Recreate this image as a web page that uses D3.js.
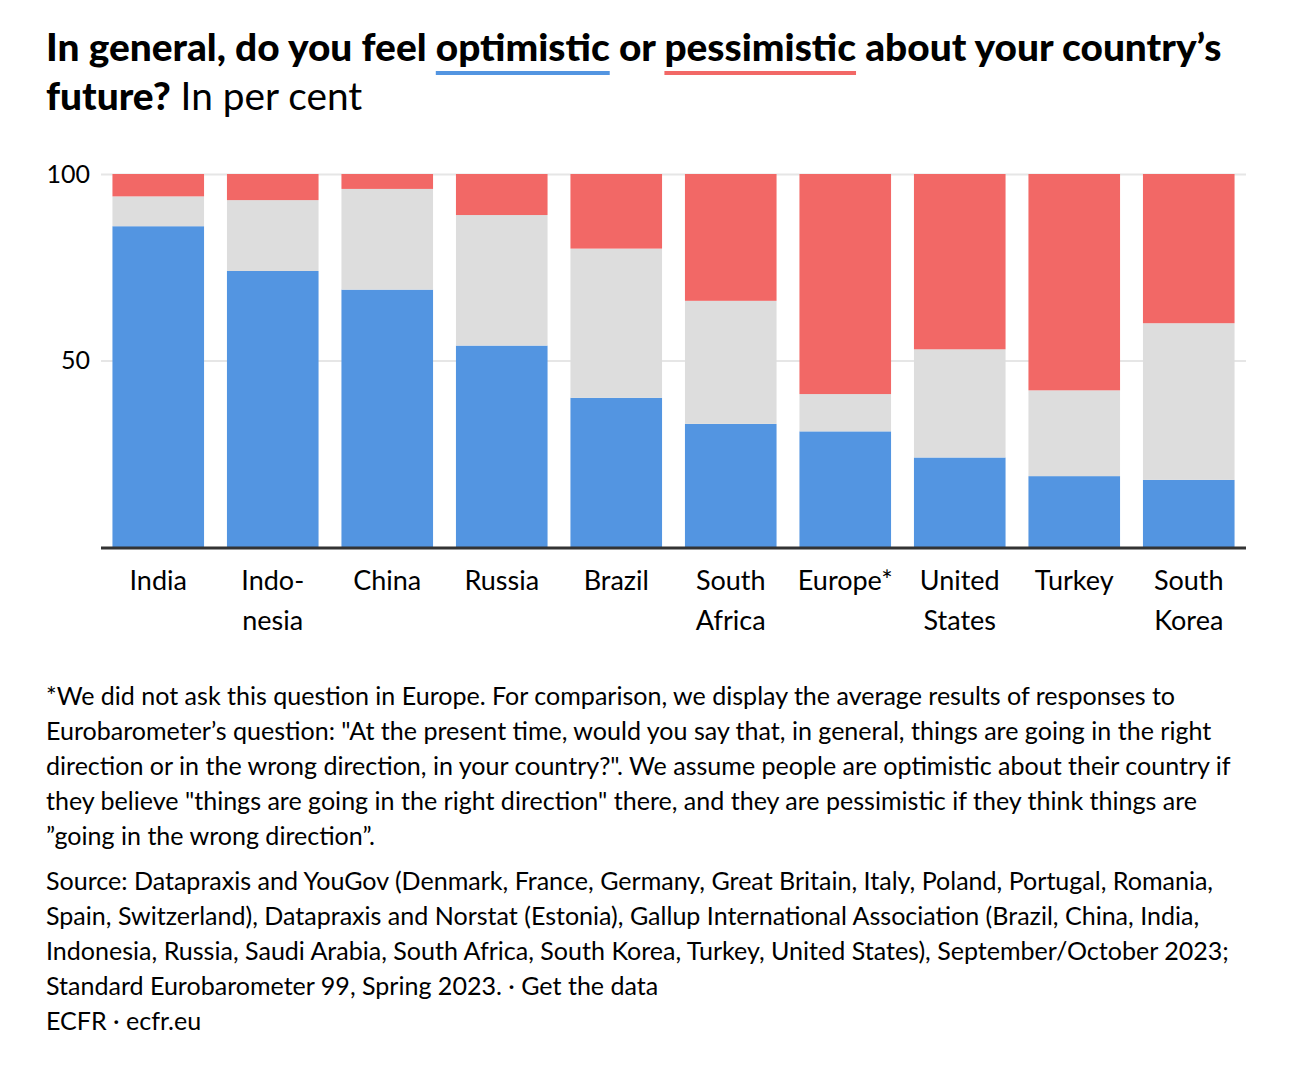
<!DOCTYPE html>
<html>
<head>
<meta charset="utf-8">
<script src="https://cdn.jsdelivr.net/npm/d3@7"></script>
<style>
  html, body { margin: 0; padding: 0; background: #fff; }
  svg { display: block; }
  text { font-family: Lato, "Noto Sans", sans-serif; fill: #000; }
</style>
</head>
<body>
<svg id="chart" width="1316" height="1090"></svg>
<script>
const categories = ["India", "Indonesia", "China", "Russia", "Brazil", "South Africa", "Europe*", "United States", "Turkey", "South Korea"];
const categoryLabels = [["India"], ["Indo-", "nesia"], ["China"], ["Russia"], ["Brazil"], ["South", "Africa"], ["Europe*"], ["United", "States"], ["Turkey"], ["South", "Korea"]];
const optimistic  = [86, 74, 69, 54, 40, 33, 31, 24, 19, 18];
const neutral     = [ 8, 19, 27, 35, 40, 33, 10, 29, 23, 42];
const pessimistic = [ 6,  7,  4, 11, 20, 34, 59, 47, 58, 40];
const seriesKeys = ["optimistic", "neutral", "pessimistic"];
const seriesColors = ["#5395e1", "#dddddd", "#f26866"];
const yTicks = [50, 100];

const footnoteLines = [
  "*We did not ask this question in Europe. For comparison, we display the average results of responses to",
  "Eurobarometer\u2019s question: \"At the present time, would you say that, in general, things are going in the right",
  "direction or in the wrong direction, in your country?\". We assume people are optimistic about their country if",
  "they believe \"things are going in the right direction\" there, and they are pessimistic if they think things are",
  "\u201dgoing in the wrong direction\u201d."
];
const sourceLines = [
  "Source: Datapraxis and YouGov (Denmark, France, Germany, Great Britain, Italy, Poland, Portugal, Romania,",
  "Spain, Switzerland), Datapraxis and Norstat (Estonia), Gallup International Association (Brazil, China, India,",
  "Indonesia, Russia, Saudi Arabia, South Africa, South Korea, Turkey, United States), September/October 2023;",
  "Standard Eurobarometer 99, Spring 2023. \u00b7 Get the data",
  "ECFR \u00b7 ecfr.eu"
];

const svg = d3.select("#chart");

// ---------- Title ----------
const title = svg.append("text").attr("x", 46).attr("y", 61).attr("font-size", 31).attr("font-weight", 900);
title.append("tspan").text("In general, do you feel ");
const tOpt = title.append("tspan").text("optimistic");
title.append("tspan").text(" or ");
const tPes = title.append("tspan").text("pessimistic");
title.append("tspan").text(" about your country\u2019s");

function fitWidth(sel, target) {
  const w = sel.node().getComputedTextLength();
  const fs = +sel.attr("font-size");
  const nfs = fs * target / w;
  sel.attr("font-size", nfs);
  return nfs;
}
const titleFs = fitWidth(title, 1176);

const title2 = svg.append("text").attr("x", 46).attr("y", 110).attr("font-size", titleFs);
title2.append("tspan").attr("font-weight", 900).text("future?");
title2.append("tspan").attr("font-weight", 400).text(" In per cent");

function underline(tspan, color) {
  const n = tspan.node();
  const start = n.getStartPositionOfChar(0);
  const end = n.getEndPositionOfChar(n.getNumberOfChars() - 1);
  svg.append("rect")
    .attr("x", start.x).attr("y", 71)
    .attr("width", end.x - start.x).attr("height", 4)
    .attr("fill", color);
}
underline(tOpt, seriesColors[0]);
underline(tPes, seriesColors[2]);

// ---------- Chart ----------
const x = d3.scaleBand().domain(categories).range([101, 1246]).paddingInner(0.2).paddingOuter(0.1);
const y = d3.scaleLinear().domain([0, 100]).range([547, 174]);

const rows = categories.map((c, i) => ({
  category: c, optimistic: optimistic[i], neutral: neutral[i], pessimistic: pessimistic[i]
}));
const stacked = d3.stack().keys(seriesKeys)(rows);

const grid = svg.append("g").attr("transform", "translate(101,0)")
  .call(d3.axisLeft(y).tickValues(yTicks).tickSize(-1145).tickFormat(""));
grid.select(".domain").remove();
grid.selectAll(".tick line").attr("stroke", "#e6e6e6").attr("stroke-width", 2);

const yAxis = svg.append("g").attr("transform", "translate(90,0)")
  .call(d3.axisLeft(y).tickValues(yTicks).tickSize(0).tickPadding(0));
yAxis.select(".domain").remove();
yAxis.selectAll(".tick text")
  .attr("font-family", "Lato, 'Noto Sans', sans-serif")
  .attr("font-size", 25).attr("fill", "#000");

svg.append("g").selectAll("g").data(stacked).join("g")
  .attr("fill", (d, i) => seriesColors[i])
  .selectAll("rect").data(d => d).join("rect")
  .attr("x", d => x(d.data.category))
  .attr("width", x.bandwidth())
  .attr("y", d => y(d[1]))
  .attr("height", d => y(d[0]) - y(d[1]));

svg.append("line")
  .attr("x1", 101).attr("x2", 1246)
  .attr("y1", y(0) + 1).attr("y2", y(0) + 1)
  .attr("stroke", "#333").attr("stroke-width", 3);

const xLab = svg.append("g");
categories.forEach((c, i) => {
  const t = xLab.append("text")
    .attr("x", x(c) + x.bandwidth() / 2)
    .attr("y", 590)
    .attr("text-anchor", "middle")
    .attr("font-size", 27);
  categoryLabels[i].forEach((line, j) => {
    t.append("tspan").attr("x", x(c) + x.bandwidth() / 2).attr("dy", j === 0 ? 0 : 40).text(line);
  });
});

// ---------- Footnotes ----------
const fn = svg.append("g");
let fnFs = 22;
footnoteLines.forEach((l, i) => {
  fn.append("text").attr("x", 46).attr("y", 705 + i * 35).attr("font-size", fnFs).text(l);
});
const first = fn.select("text");
fnFs = fitWidth(first, 1130);
fn.selectAll("text").attr("font-size", fnFs);

const src = svg.append("g");
sourceLines.forEach((l, i) => {
  src.append("text").attr("x", 46).attr("y", 890 + i * 35).attr("font-size", fnFs).text(l);
});
</script>
</body>
</html>
